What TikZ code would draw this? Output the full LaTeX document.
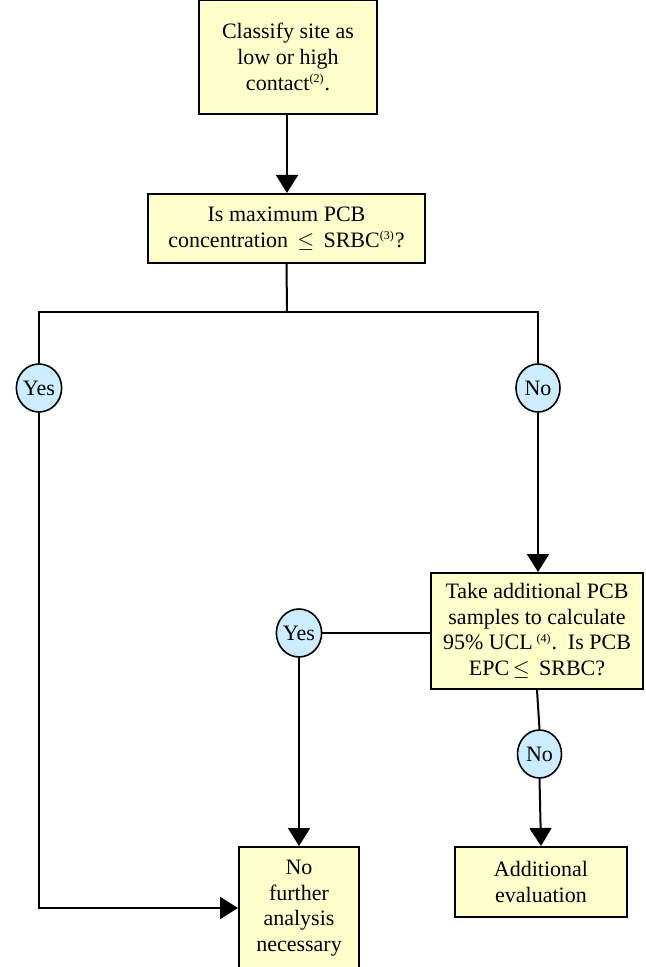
\documentclass[tikz,border=0pt]{standalone}
\usepackage{fontspec}
\setmainfont{Liberation Serif}
\usepackage{tikz}
\usetikzlibrary{positioning,arrows.meta,shapes.geometric,calc}
\definecolor{boxfill}{HTML}{FFFFCC}
\definecolor{answerfill}{HTML}{CCECFF}
\tikzset{
    flowbox/.style={
        draw=black, fill=boxfill, line width=1pt,
        inner sep=0pt, align=center,
        font=\fontsize{11}{12.8}\selectfont
    },
    answer/.style={
        draw=black, fill=answerfill, ellipse, line width=0.8pt,
        inner sep=0pt, minimum width=22pt, minimum height=24pt,
        font=\fontsize{11}{13}\selectfont
    },
    arrow/.style={-{Triangle[length=9pt,width=11pt]}, line width=1pt},
    link/.style={line width=1pt},
}
\newcommand{\fnref}[1]{\textsuperscript{\fontsize{6}{7}\selectfont(#1)}}

\begin{document}
\begin{tikzpicture}[x=0.5pt, y=-0.5pt]
    \useasboundingbox (0,0) rectangle (645,967);
    % boxes
    \node[flowbox, minimum width=89pt, minimum height=57pt] (classify) at (288,57)
        {Classify site as\\low or high\\contact\fnref{2}.};
    \node[flowbox, minimum width=138.5pt, minimum height=34.5pt] (maxpcb) at (286.5,228.5)
        {Is maximum PCB\\concentration \,$\leq$\, SRBC\fnref{3}?};
    \node[flowbox, minimum width=106pt, minimum height=58pt] (ucl) at (537,631)
        {Take additional PCB\\samples to calculate\\95\% UCL\,\fnref{4}.\ \ Is PCB\\EPC\,$\leq$\, SRBC?};
    \node[flowbox, minimum width=60pt, minimum height=61pt] (nofurther) at (299,908)
        {No\\further\\analysis\\necessary};
    \node[flowbox, minimum width=86pt, minimum height=35pt] (addeval) at (541,882)
        {Additional\\evaluation};
    % yes / no answers
    \node[answer] (yesA) at (39,388) {Yes};
    \node[answer] (noA) at (538,388) {No};
    \node[answer] (yesB) at (299,633) {Yes};
    \node[answer] (noB) at (539.5,754) {No};
    \coordinate (split) at (287,312);
    \coordinate (corner) at (39,908);
    % connectors
    \draw[arrow] (287,114) -- (maxpcb.north -| 287,0);
    \draw[link] (maxpcb.south) -- (split);
    \draw[link] (split) -| (yesA.north);
    \draw[link] (split) -| (noA.north);
    \draw[arrow] (yesA.south) -- (corner) -- (nofurther.west |- corner);
    \draw[arrow] (noA.south) -- (ucl.north -| noA);
    \draw[link] (ucl.west |- yesB) -- (yesB.east);
    \draw[arrow] (yesB.south) -- (nofurther.north);
    \draw[link] (ucl.south) -- (noB.north);
    \draw[arrow] (noB.south) -- (addeval.north);
\end{tikzpicture}
\end{document}
